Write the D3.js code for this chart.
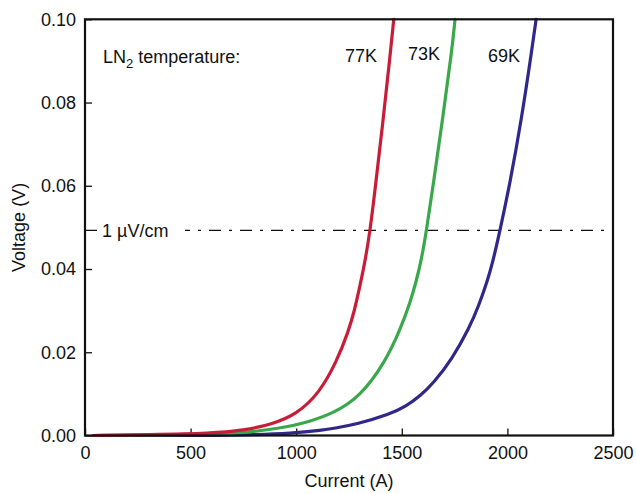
<!DOCTYPE html>
<html>
<head>
<meta charset="utf-8">
<script src="https://cdn.jsdelivr.net/npm/d3@7"></script>
<style>
  body { margin: 0; background: #fff; }
  svg text { font-family: "Liberation Sans", Arial, sans-serif; fill: #111; }
</style>
</head>
<body>
<div id="chart"></div>
<script>
// values: current (A) and voltage (V)
var current77 = [40, 300, 600, 750, 885, 1000, 1110, 1192, 1247, 1275, 1302, 1326, 1350, 1372, 1410, 1445, 1462];
var voltage77 = [0.0000, 0.0002, 0.0005, 0.0012, 0.0027, 0.0050, 0.0102, 0.0178, 0.0250, 0.0298, 0.0360, 0.0418, 0.0493, 0.0585, 0.0750, 0.0915, 0.1000];

var current73 = [40, 300, 600, 766, 939, 1034, 1176, 1302, 1421, 1492, 1540, 1568, 1592, 1617, 1648, 1694, 1737, 1752];
var voltage73 = [0.0000, 0.0001, 0.0003, 0.0007, 0.0019, 0.0029, 0.0053, 0.0093, 0.0176, 0.0254, 0.0320, 0.0370, 0.0420, 0.0493, 0.0600, 0.0763, 0.0924, 0.1000];

var current69 = [40, 600, 800, 971, 1129, 1176, 1287, 1444, 1520, 1587, 1650, 1737, 1820, 1863, 1905, 1930, 1965, 2010, 2068, 2115, 2136];
var voltage69 = [0.0000, 0.0000, 0.0002, 0.0005, 0.0013, 0.0017, 0.0027, 0.0051, 0.0070, 0.0095, 0.0126, 0.0183, 0.0259, 0.0310, 0.0371, 0.0415, 0.0493, 0.0600, 0.0763, 0.0924, 0.1000];

var seriesNames = ['69K', '73K', '77K'];
var criterionVoltage = 0.0493;   // 1 uV/cm level
var xTicks = [0, 500, 1000, 1500, 2000, 2500];
var yTicks = [0, 0.02, 0.04, 0.06, 0.08, 0.10];

var width = 636, height = 494;
var margin = {t: 19.3, r: 23, b: 58.5, l: 85};

var svg = d3.select('#chart').append('svg')
  .attr('width', width)
  .attr('height', height);

var xScale = d3.scaleLinear().domain([0, 2500]).range([margin.l, width - margin.r]);
var yScale = d3.scaleLinear().domain([0, 0.1]).range([height - margin.b, margin.t]);

var colors = {'77K': '#c81d38', '73K': '#3aa84a', '69K': '#31278a'};

var series = {
  '77K': current77.map(function(c, i) { return [c, voltage77[i]]; }),
  '73K': current73.map(function(c, i) { return [c, voltage73[i]]; }),
  '69K': current69.map(function(c, i) { return [c, voltage69[i]]; })
};

// axes (inward ticks)
var xAxis = d3.axisBottom(xScale).tickValues(xTicks).tickSizeInner(-7).tickSizeOuter(0).tickPadding(11)
  .tickFormat(d3.format('d'));
var yAxis = d3.axisLeft(yScale).tickValues(yTicks).tickSizeInner(-7).tickSizeOuter(0).tickPadding(9)
  .tickFormat(d3.format('.2f'));

var gx = svg.append('g').attr('transform', 'translate(0,' + yScale(0) + ')').call(xAxis);
var gy = svg.append('g').attr('transform', 'translate(' + xScale(0) + ',0)').call(yAxis);
[gx, gy].forEach(function(g) {
  g.select('.domain').remove();
  g.selectAll('line').attr('stroke', '#111').attr('stroke-width', 1.3);
  g.selectAll('text').style('font-size', '18px').attr('fill', '#111');
});

// 1 uV/cm criterion line
svg.append('line')
  .attr('x1', xScale(0)).attr('x2', xScale(2500))
  .attr('y1', yScale(criterionVoltage)).attr('y2', yScale(criterionVoltage))
  .attr('stroke', '#111').attr('stroke-width', 1.2)
  .attr('stroke-dasharray', '12,8,3,8');
svg.append('rect')
  .attr('x', 97).attr('y', yScale(criterionVoltage) - 12)
  .attr('width', 88).attr('height', 24).attr('fill', '#fff');
svg.append('text')
  .attr('x', 102).attr('y', yScale(criterionVoltage) + 6.5)
  .style('font-size', '18px')
  .text('1 \u00b5V/cm');

// curves
var line = d3.line()
  .x(function(d) { return xScale(d[0]); })
  .y(function(d) { return yScale(d[1]); })
  .curve(d3.curveBasis);

svg.append('g').selectAll('path')
  .data(seriesNames)
  .enter()
  .append('path')
  .attr('d', function(d) { return line(series[d]); })
  .attr('fill', 'none')
  .attr('stroke', function(d) { return colors[d]; })
  .attr('stroke-width', 3.2)
  .attr('stroke-linecap', 'round');

// frame
svg.append('rect')
  .attr('x', xScale(0)).attr('y', yScale(0.1))
  .attr('width', xScale(2500) - xScale(0))
  .attr('height', yScale(0) - yScale(0.1))
  .attr('fill', 'none').attr('stroke', '#111').attr('stroke-width', 2.2);

// labels
var ln = svg.append('text').attr('x', 103).attr('y', 63).style('font-size', '18px');
ln.append('tspan').text('LN');
ln.append('tspan').attr('dy', 5).style('font-size', '13px').text('2');
ln.append('tspan').attr('dy', -5).text(' temperature:');

var curveLabels = [{name: '77K', x: 345, y: 62}, {name: '73K', x: 408, y: 60}, {name: '69K', x: 488, y: 62}];
svg.selectAll('.curve-label')
  .data(curveLabels)
  .enter()
  .append('text')
  .attr('class', 'curve-label')
  .attr('x', function(d) { return d.x; })
  .attr('y', function(d) { return d.y; })
  .style('font-size', '18px')
  .text(function(d) { return d.name; });

svg.append('text')
  .attr('x', (xScale(0) + xScale(2500)) / 2)
  .attr('y', 487)
  .attr('text-anchor', 'middle')
  .style('font-size', '18px')
  .text('Current (A)');

svg.append('text')
  .attr('transform', 'translate(24.5,' + ((yScale(0) + yScale(0.1)) / 2) + ') rotate(-90)')
  .attr('text-anchor', 'middle')
  .style('font-size', '18px')
  .text('Voltage (V)');
</script>
</body>
</html>
